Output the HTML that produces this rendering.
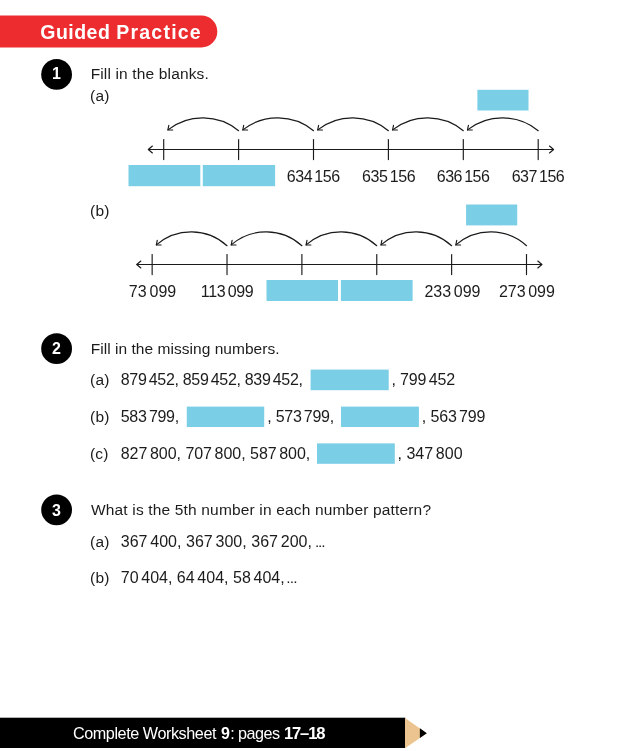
<!DOCTYPE html>
<html lang="en">
<head>
<meta charset="utf-8">
<title>Guided Practice</title>
<style>
html,body{margin:0;padding:0;background:#fff;}
body{width:620px;height:751px;overflow:hidden;}
svg{display:block;}
svg text{font-family:"Liberation Sans", sans-serif;}
</style>
</head>
<body>
<svg width="620" height="751" viewBox="0 0 620 751">
<rect width="620" height="751" fill="#fff"/>
<path d="M0 15.6 H201.4 A15.9 15.9 0 0 1 201.4 47.4 H0 Z" fill="#ed2c30"/>
<circle cx="56.6" cy="74.40" r="15.4" fill="#000"/>
<text id="n1" x="56.45" y="79.00" font-size="16" font-weight="bold" fill="#fff" text-anchor="middle">1</text>
<circle cx="56.6" cy="348.70" r="15.4" fill="#000"/>
<text id="n2" x="56.45" y="353.90" font-size="16" font-weight="bold" fill="#fff" text-anchor="middle">2</text>
<circle cx="56.6" cy="509.80" r="15.4" fill="#000"/>
<text id="n3" x="56.45" y="515.60" font-size="16" font-weight="bold" fill="#fff" text-anchor="middle">3</text>
<rect x="477.40" y="89.80" width="51.10" height="20.70" fill="#7acee5"/>
<rect x="128.50" y="165.00" width="71.80" height="21.20" fill="#7acee5"/>
<rect x="202.80" y="165.00" width="72.30" height="21.20" fill="#7acee5"/>
<rect x="466.10" y="204.50" width="51.10" height="20.90" fill="#7acee5"/>
<rect x="266.50" y="280.00" width="71.50" height="21.00" fill="#7acee5"/>
<rect x="340.90" y="280.00" width="71.70" height="21.00" fill="#7acee5"/>
<rect x="310.60" y="369.60" width="78.10" height="20.60" fill="#7acee5"/>
<rect x="186.80" y="406.60" width="77.40" height="20.40" fill="#7acee5"/>
<rect x="341.00" y="406.60" width="77.90" height="20.40" fill="#7acee5"/>
<rect x="317.00" y="443.40" width="77.80" height="20.40" fill="#7acee5"/>
<g fill="none" stroke="#1a1a1a" stroke-width="1.15" stroke-linecap="round" stroke-linejoin="round">
<path d="M148.50 149.50 H553.40"/>
<path d="M152.40 146.00 L148.30 149.50 L152.40 153.00"/>
<path d="M549.50 146.00 L553.60 149.50 L549.50 153.00"/>
<path d="M163.70 139.50 V159.60"/>
<path d="M238.60 139.50 V159.60"/>
<path d="M313.50 139.50 V159.60"/>
<path d="M388.40 139.50 V159.60"/>
<path d="M463.30 139.50 V159.60"/>
<path d="M538.20 139.50 V159.60"/>
<path d="M238.60 130.70 A54 51 0 0 0 167.90 129.90"/>
<path d="M168.80 125.40 L167.90 129.90 L172.70 130.00"/>
<path d="M313.50 130.70 A54 51 0 0 0 242.80 129.90"/>
<path d="M243.70 125.40 L242.80 129.90 L247.60 130.00"/>
<path d="M388.40 130.70 A54 51 0 0 0 317.70 129.90"/>
<path d="M318.60 125.40 L317.70 129.90 L322.50 130.00"/>
<path d="M463.30 130.70 A54 51 0 0 0 392.60 129.90"/>
<path d="M393.50 125.40 L392.60 129.90 L397.40 130.00"/>
<path d="M538.20 130.70 A54 51 0 0 0 467.50 129.90"/>
<path d="M468.40 125.40 L467.50 129.90 L472.30 130.00"/>
</g>
<g fill="none" stroke="#1a1a1a" stroke-width="1.15" stroke-linecap="round" stroke-linejoin="round">
<path d="M136.95 264.50 H541.70"/>
<path d="M140.85 261.00 L136.75 264.50 L140.85 268.00"/>
<path d="M537.80 261.00 L541.90 264.50 L537.80 268.00"/>
<path d="M152.15 254.50 V274.60"/>
<path d="M227.02 254.50 V274.60"/>
<path d="M301.89 254.50 V274.60"/>
<path d="M376.76 254.50 V274.60"/>
<path d="M451.63 254.50 V274.60"/>
<path d="M526.50 254.50 V274.60"/>
<path d="M227.02 245.70 A54 55 0 0 0 156.35 244.90"/>
<path d="M157.25 240.40 L156.35 244.90 L161.15 245.00"/>
<path d="M301.89 245.70 A54 55 0 0 0 231.22 244.90"/>
<path d="M232.12 240.40 L231.22 244.90 L236.02 245.00"/>
<path d="M376.76 245.70 A54 55 0 0 0 306.09 244.90"/>
<path d="M306.99 240.40 L306.09 244.90 L310.89 245.00"/>
<path d="M451.63 245.70 A54 55 0 0 0 380.96 244.90"/>
<path d="M381.86 240.40 L380.96 244.90 L385.76 245.00"/>
<path d="M526.50 245.70 A54 55 0 0 0 455.83 244.90"/>
<path d="M456.73 240.40 L455.83 244.90 L460.63 245.00"/>
</g>
<rect x="0.00" y="717.70" width="405.30" height="30.30" fill="#000"/>
<path d="M405 717.9 L426.8 733.2 L405 748.3 Z" fill="#ecc48f"/>
<path d="M419.9 728.35 L426.8 733.2 L419.9 738 Z" fill="#000"/>
<text id="hdr1" x="40.30" y="39.00" font-size="19.5" font-weight="bold" fill="#fff" textLength="69.55" lengthAdjust="spacing">Guided</text>
<text id="hdr2" x="116.25" y="39.00" font-size="19.5" font-weight="bold" fill="#fff" textLength="84.45" lengthAdjust="spacing">Practice</text>
<text id="q1" x="90.65" y="79.00" font-size="15.5" font-weight="normal" fill="#1c1c1c" textLength="118.15" lengthAdjust="spacing">Fill in the blanks.</text>
<text id="q1a" x="90.00" y="100.60" font-size="15.5" font-weight="normal" fill="#1c1c1c" textLength="19.45" lengthAdjust="spacing">(a)</text>
<text id="q1b" x="90.00" y="216.20" font-size="15.5" font-weight="normal" fill="#1c1c1c" textLength="19.45" lengthAdjust="spacing">(b)</text>
<text id="la1" x="286.70" y="181.90" font-size="16" font-weight="normal" fill="#1c1c1c" textLength="53.50" lengthAdjust="spacing">634 156</text>
<text id="la2" x="361.90" y="181.90" font-size="16" font-weight="normal" fill="#1c1c1c" textLength="53.85" lengthAdjust="spacing">635 156</text>
<text id="la3" x="436.75" y="181.90" font-size="16" font-weight="normal" fill="#1c1c1c" textLength="53.15" lengthAdjust="spacing">636 156</text>
<text id="la4" x="511.70" y="181.90" font-size="16" font-weight="normal" fill="#1c1c1c" textLength="53.05" lengthAdjust="spacing">637 156</text>
<text id="lb1" x="128.75" y="297.00" font-size="16" font-weight="normal" fill="#1c1c1c" textLength="47.50" lengthAdjust="spacing">73 099</text>
<text id="lb2" x="200.75" y="297.00" font-size="16" font-weight="normal" fill="#1c1c1c" textLength="53.00" lengthAdjust="spacing">113 099</text>
<text id="lb3" x="424.40" y="297.00" font-size="16" font-weight="normal" fill="#1c1c1c" textLength="56.05" lengthAdjust="spacing">233 099</text>
<text id="lb4" x="498.90" y="297.00" font-size="16" font-weight="normal" fill="#1c1c1c" textLength="56.00" lengthAdjust="spacing">273 099</text>
<text id="q2" x="90.75" y="353.60" font-size="15.5" font-weight="normal" fill="#1c1c1c" textLength="188.75" lengthAdjust="spacing">Fill in the missing numbers.</text>
<text id="q2a" x="90.00" y="385.10" font-size="15.5" font-weight="normal" fill="#1c1c1c" textLength="19.45" lengthAdjust="spacing">(a)</text>
<text id="q2a1" x="120.75" y="385.10" font-size="16" font-weight="normal" fill="#1c1c1c" textLength="182.20" lengthAdjust="spacing">879 452, 859 452, 839 452,</text>
<text id="q2a2" x="391.50" y="385.10" font-size="16" font-weight="normal" fill="#1c1c1c" textLength="63.60" lengthAdjust="spacing">, 799 452</text>
<text id="q2b" x="90.00" y="422.20" font-size="15.5" font-weight="normal" fill="#1c1c1c" textLength="19.45" lengthAdjust="spacing">(b)</text>
<text id="q2b1" x="120.75" y="422.20" font-size="16" font-weight="normal" fill="#1c1c1c" textLength="58.35" lengthAdjust="spacing">583 799,</text>
<text id="q2b2" x="267.35" y="422.20" font-size="16" font-weight="normal" fill="#1c1c1c" textLength="66.80" lengthAdjust="spacing">, 573 799,</text>
<text id="q2b3" x="421.85" y="422.20" font-size="16" font-weight="normal" fill="#1c1c1c" textLength="63.65" lengthAdjust="spacing">, 563 799</text>
<text id="q2c" x="90.00" y="459.10" font-size="15.5" font-weight="normal" fill="#1c1c1c" textLength="18.45" lengthAdjust="spacing">(c)</text>
<text id="q2c1" x="120.75" y="459.10" font-size="16" font-weight="normal" fill="#1c1c1c" textLength="189.55" lengthAdjust="spacing">827 800, 707 800, 587 800,</text>
<text id="q2c2" x="397.55" y="459.10" font-size="16" font-weight="normal" fill="#1c1c1c" textLength="65.00" lengthAdjust="spacing">, 347 800</text>
<text id="q3" x="91.00" y="514.60" font-size="15.5" font-weight="normal" fill="#1c1c1c" textLength="340.00" lengthAdjust="spacing">What is the 5th number in each number pattern?</text>
<text id="q3a" x="90.00" y="546.70" font-size="15.5" font-weight="normal" fill="#1c1c1c" textLength="19.45" lengthAdjust="spacing">(a)</text>
<text id="q3a1" x="120.75" y="546.70" font-size="16" font-weight="normal" fill="#1c1c1c" textLength="191.25" lengthAdjust="spacing">367 400, 367 300, 367 200,</text>
<text id="q3a2" x="314.90" y="546.70" font-size="15.5" font-weight="normal" fill="#1c1c1c" textLength="10.60" lengthAdjust="spacing">...</text>
<text id="q3b" x="90.00" y="583.20" font-size="15.5" font-weight="normal" fill="#1c1c1c" textLength="19.45" lengthAdjust="spacing">(b)</text>
<text id="q3b1" x="120.75" y="583.20" font-size="16" font-weight="normal" fill="#1c1c1c" textLength="163.90" lengthAdjust="spacing">70 404, 64 404, 58 404,</text>
<text id="q3b2" x="286.35" y="583.20" font-size="15.5" font-weight="normal" fill="#1c1c1c" textLength="11.30" lengthAdjust="spacing">...</text>
<text id="ft1" x="72.95" y="738.80" font-size="16.2" font-weight="normal" fill="#fff" textLength="143.50" lengthAdjust="spacing">Complete Worksheet</text>
<text id="ft2" x="221.10" y="738.80" font-size="16.0" font-weight="bold" fill="#fff">9</text>
<text id="ft3" x="230.20" y="738.80" font-size="16.2" font-weight="normal" fill="#fff" textLength="49.80" lengthAdjust="spacing">: pages</text>
<text id="ft4" x="283.95" y="738.80" font-size="16.6" font-weight="bold" fill="#fff" textLength="41.55" lengthAdjust="spacing">17–18</text>
</svg>
</body>
</html>
